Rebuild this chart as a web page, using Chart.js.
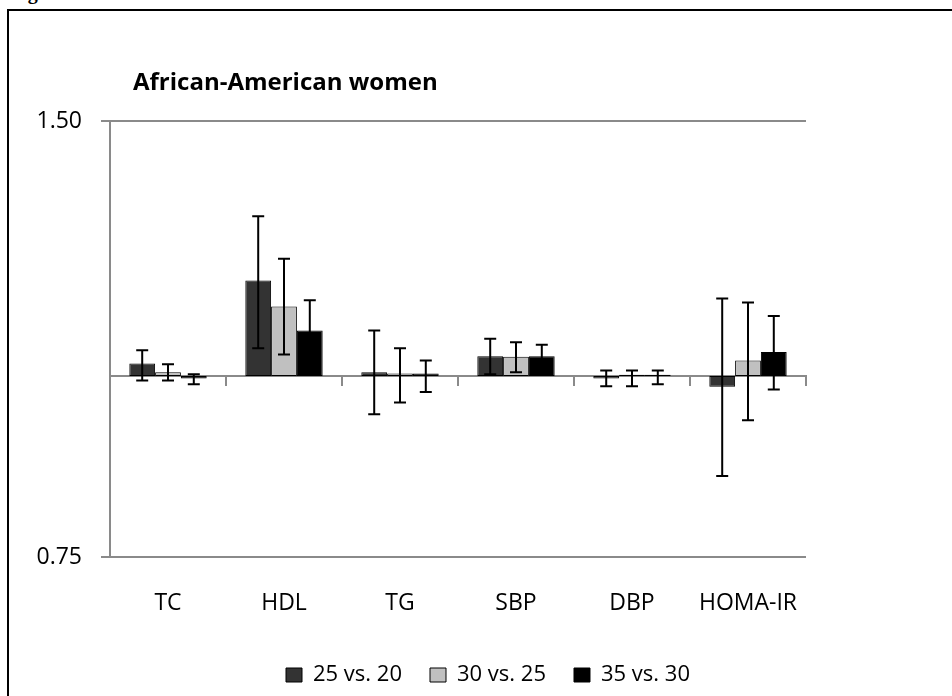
<!DOCTYPE html>
<html>
<head>
<meta charset="utf-8">
<script src="https://cdn.jsdelivr.net/npm/chart.js@4/dist/chart.umd.min.js"></script>
<style>
  html, body { margin: 0; padding: 0; background: #fff; overflow: hidden; }
  #wrap { position: relative; width: 952px; height: 696px; overflow: hidden; }
  #fig { position: absolute; left: 10px; top: -19px; font: bold 20px "Liberation Serif", serif; color: #000; }
  #frame { position: absolute; left: 7px; top: 9px; width: 1100px; height: 900px; border: 2px solid #000; box-sizing: border-box; }
  #c { position: absolute; left: 0; top: 0; }
</style>
</head>
<body>
<div id="wrap">
  <div id="fig">Figure</div>
  <div id="frame"></div>
  <canvas id="c" width="952" height="696"></canvas>
</div>
<script>
// Outcomes compared across BMI steps
const categories = ['TC', 'HDL', 'TG', 'SBP', 'DBP', 'HOMA-IR'];
const seriesNames = ['25 vs. 20', '30 vs. 25', '35 vs. 30'];

// Point estimates (ratio scale, reference = 1)
const est25vs20 = [1.020, 1.164, 1.006, 1.032, 0.996, 0.983];
const est30vs25 = [1.006, 1.117, 1.004, 1.031, 1.002, 1.025];
const est35vs30 = [0.996, 1.075, 1.004, 1.032, 1.002, 1.039];

// 95% confidence limits
const lo25vs20 = [0.993, 1.045, 0.941, 1.003, 0.984, 0.853];
const hi25vs20 = [1.042, 1.289, 1.075, 1.061, 1.009, 1.131];
const lo30vs25 = [0.993, 1.035, 0.959, 1.006, 0.984, 0.932];
const hi30vs25 = [1.019, 1.205, 1.045, 1.055, 1.009, 1.124];
const lo35vs30 = [0.987, 1.025, 0.975, 1.013, 0.987, 0.979];
const hi35vs30 = [1.003, 1.128, 1.025, 1.051, 1.009, 1.100];

// Value-axis tick labels
const yTicks = [0.75, 1.50];

const titleText = 'African-American women';
const fillColors = ['#333333', '#c0c0c0', '#000000'];
const axisGray = '#8a8a8a';
const fontFamily = '"Open Sans", "DejaVu Sans", sans-serif';

const estimates = [est25vs20, est30vs25, est35vs30];
const lows = [lo25vs20, lo30vs25, lo35vs30];
const highs = [hi25vs20, hi30vs25, hi35vs30];

// Whiskers for the confidence intervals, drawn through the value scale
const errorBars = {
  id: 'errorBars',
  afterDatasetsDraw(chart) {
    const ctx = chart.ctx;
    const y = chart.scales.y;
    ctx.save();
    ctx.strokeStyle = '#000';
    ctx.lineWidth = 2;
    chart.data.datasets.forEach((ds, i) => {
      const meta = chart.getDatasetMeta(i);
      meta.data.forEach((bar, j) => {
        const x = bar.x;
        const yHi = y.getPixelForValue(ds.hi[j]);
        const yLo = y.getPixelForValue(ds.lo[j]);
        const cap = 6;
        ctx.beginPath();
        ctx.moveTo(x, yHi); ctx.lineTo(x, yLo);
        ctx.moveTo(x - cap, yHi); ctx.lineTo(x + cap, yHi);
        ctx.moveTo(x - cap, yLo); ctx.lineTo(x + cap, yLo);
        ctx.stroke();
      });
    });
    ctx.restore();
  }
};

// Panel heading placed above the plot, left of centre
const panelTitle = {
  id: 'panelTitle',
  afterDraw(chart) {
    const ctx = chart.ctx;
    ctx.save();
    ctx.fillStyle = '#000';
    ctx.font = 'bold 24px ' + fontFamily;
    ctx.textBaseline = 'alphabetic';
    ctx.textAlign = 'left';
    ctx.fillText(titleText, 133, 90);
    ctx.restore();
  }
};

// Centre the legend row under the whole figure frame
const legendShift = {
  id: 'legendShift',
  afterLayout(chart) {
    const lg = chart.legend;
    if (!lg) return;
    const target = 488;
    const shift = target - (lg.left + lg.right) / 2;
    lg.left += shift;
    lg.right += shift;
  }
};

new Chart(document.getElementById('c'), {
  type: 'bar',
  data: {
    labels: categories,
    datasets: seriesNames.map((name, i) => ({
      label: name,
      data: estimates[i],
      lo: lows[i],
      hi: highs[i],
      base: 1,
      backgroundColor: fillColors[i],
      borderColor: '#000',
      borderWidth: 1,
      borderSkipped: false,
      categoryPercentage: 0.667,
      barPercentage: 1.0
    }))
  },
  options: {
    responsive: false,
    animation: false,
    layout: { padding: { left: 0, right: 146, top: 121, bottom: 0 } },
    plugins: {
      title: { display: false },
      tooltip: { enabled: false },
      legend: {
        position: 'bottom',
        labels: {
          color: '#000',
          font: { family: fontFamily, size: 22 },
          boxWidth: 16,
          boxHeight: 14,
          padding: 28
        }
      }
    },
    scales: {
      y: {
        type: 'logarithmic',
        min: 0.75,
        max: 1.5,
        afterBuildTicks(axis) { axis.ticks = yTicks.map(v => ({ value: v })); },
        afterFit(axis) { axis.width = 110; },
        ticks: {
          color: '#000',
          padding: 19,
          font: { family: fontFamily, size: 23 },
          callback: (v) => Number(v).toFixed(2)
        },
        grid: { color: axisGray, lineWidth: 2, tickLength: 9, drawTicks: true },
        border: { display: true, color: axisGray, width: 2 }
      },
      x: {
        type: 'category',
        position: 'bottom',
        afterFit(axis) { axis.height = 79; },
        grid: { display: false, drawTicks: false },
        border: { display: false },
        ticks: {
          color: '#000',
          padding: 33,
          maxRotation: 0,
          autoSkip: false,
          font: { family: fontFamily, size: 23 }
        }
      },
      x2: {
        type: 'category',
        position: { y: 1 },
        offset: true,
        ticks: { display: false },
        grid: { offset: true, drawOnChartArea: false, drawTicks: true, tickLength: 9, color: axisGray, lineWidth: 2 },
        border: { display: true, color: axisGray, width: 2 }
      }
    }
  },
  plugins: [errorBars, panelTitle, legendShift]
});
</script>
</body>
</html>
